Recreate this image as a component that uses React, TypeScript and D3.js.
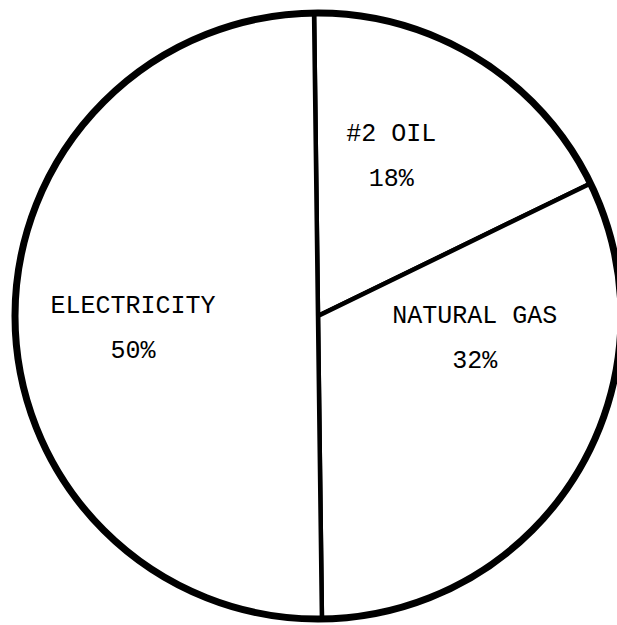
import React, { useEffect, useRef } from 'react';
import * as d3 from 'd3';

const categories = ['#2 OIL', 'NATURAL GAS', 'ELECTRICITY'];
const shares = [18, 32, 50];
const shareLabels = ['18%', '32%', '50%'];

const App = () => {
  const chartRef = useRef<SVGSVGElement>(null);

  useEffect(() => {
    const width = 617;
    const height = 625;
    const cx = 318;
    const cy = 316;
    const radius = 303;

    const svg = d3.select(chartRef.current);
    svg.selectAll('*').remove();

    svg.append('rect').attr('width', width).attr('height', height).attr('fill', '#fff');

    const g = svg.append('g').attr('transform', `translate(${cx}, ${cy})`);

    const pie = d3.pie<number>()
      .sort(null)
      .value(d => d)
      .startAngle(-0.013)
      .endAngle(2 * Math.PI - 0.013);

    const arc = d3.arc<d3.PieArcDatum<number>>()
      .innerRadius(0)
      .outerRadius(radius);

    const arcs = pie(shares);

    g.selectAll('path.slice')
      .data(arcs)
      .enter()
      .append('path')
      .attr('class', 'slice')
      .attr('d', arc)
      .attr('fill', '#fff')
      .attr('stroke', '#000')
      .attr('stroke-width', 4.5)
      .attr('stroke-linejoin', 'miter');

    // heavier outline round the whole pie
    g.append('circle')
      .attr('r', radius)
      .attr('fill', 'none')
      .attr('stroke', '#000')
      .attr('stroke-width', 7);

    // label anchor: centroid on a smaller arc, then nudged by hand to sit like the original
    const labelArc = d3.arc<d3.PieArcDatum<number>>()
      .innerRadius(170)
      .outerRadius(170);
    const nudge = [[-16, -13], [12, -65], [-15, 12]];

    const labels = g.selectAll('g.label')
      .data(arcs)
      .enter()
      .append('g')
      .attr('class', 'label')
      .attr('transform', (d, i) => {
        const [x, y] = labelArc.centroid(d);
        return `translate(${x + nudge[i][0]}, ${y + nudge[i][1]})`;
      })
      .style('font-family', '"Liberation Mono", "DejaVu Sans Mono", monospace')
      .style('font-size', '25px')
      .attr('text-anchor', 'middle')
      .attr('fill', '#000');

    labels.append('text')
      .attr('y', -17)
      .text((d, i) => categories[i]);

    labels.append('text')
      .attr('y', 28)
      .text((d, i) => shareLabels[i]);
  }, []);

  return (
    <svg
      ref={chartRef}
      width={617}
      height={625}
      style={{ position: 'absolute', left: 0, top: 0 }}
    />
  );
};

export default App;
